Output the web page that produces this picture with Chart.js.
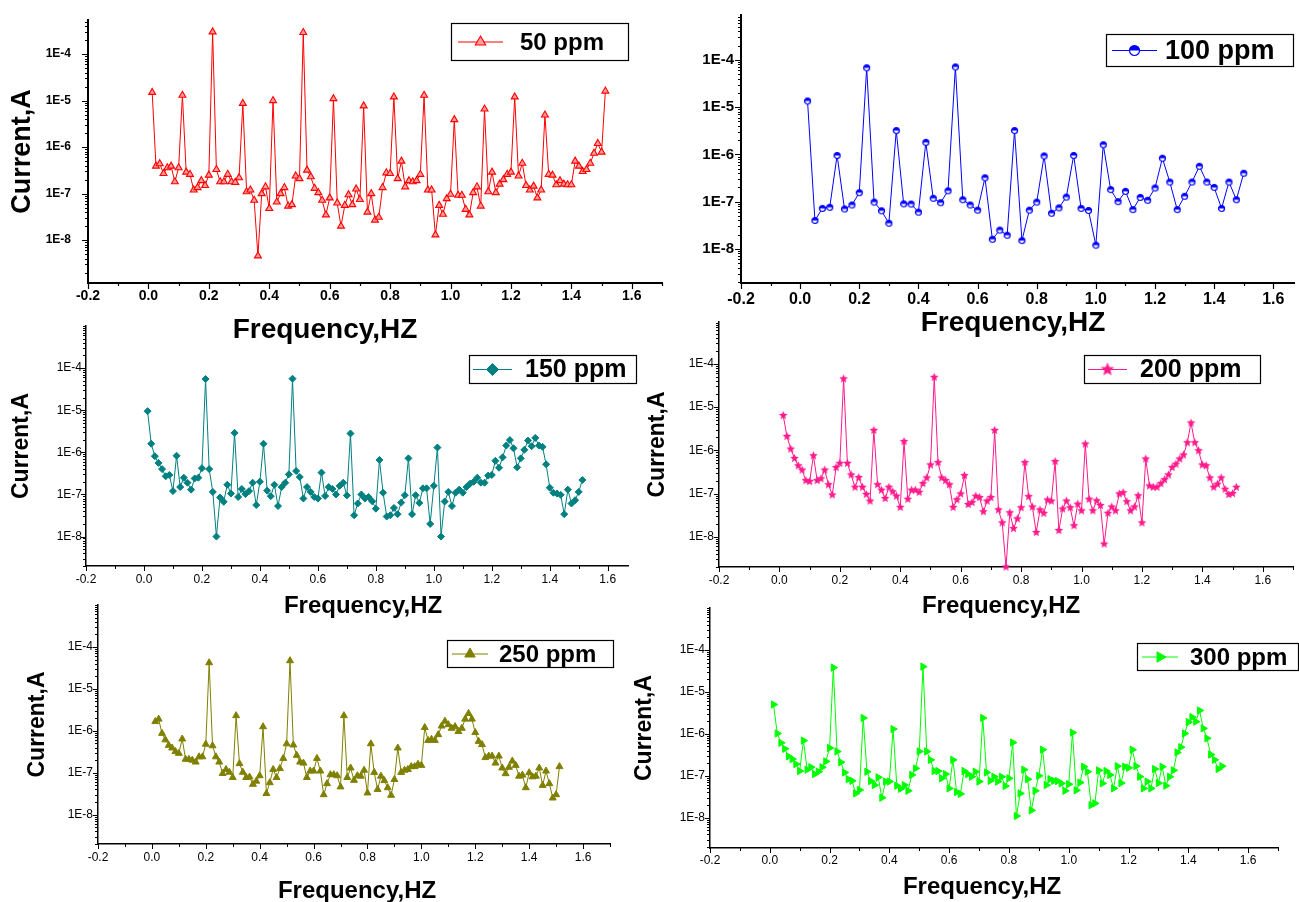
<!DOCTYPE html>
<html><head><meta charset="utf-8">
<script src="https://cdn.jsdelivr.net/npm/chart.js@4.4.1/dist/chart.umd.min.js"></script>
<style>
html,body{margin:0;padding:0;background:#fff;width:1299px;height:902px;overflow:hidden;}
body{position:relative;}
.p{position:absolute;}
.p canvas{display:block;}
</style></head><body>
<div class="p" id="w1"><canvas id="c1"></canvas></div>
<div class="p" id="w2"><canvas id="c2"></canvas></div>
<div class="p" id="w3"><canvas id="c3"></canvas></div>
<div class="p" id="w4"><canvas id="c4"></canvas></div>
<div class="p" id="w5"><canvas id="c5"></canvas></div>
<div class="p" id="w6"><canvas id="c6"></canvas></div>
<script>
// ---------------- DATA ----------------
const FREQ_FINE = [
0.0125,0.025,0.0375,0.05,0.0625,0.075,0.0875,0.1,
0.1125,0.125,0.1375,0.15,0.1625,0.175,0.1875,0.2,
0.2125,0.225,0.2375,0.25,0.2625,0.275,0.2875,0.3,
0.3125,0.325,0.3375,0.35,0.3625,0.375,0.3875,0.4,
0.4125,0.425,0.4375,0.45,0.4625,0.475,0.4875,0.5,
0.5125,0.525,0.5375,0.55,0.5625,0.575,0.5875,0.6,
0.6125,0.625,0.6375,0.65,0.6625,0.675,0.6875,0.7,
0.7125,0.725,0.7375,0.75,0.7625,0.775,0.7875,0.8,
0.8125,0.825,0.8375,0.85,0.8625,0.875,0.8875,0.9,
0.9125,0.925,0.9375,0.95,0.9625,0.975,0.9875,1.0,
1.0125,1.025,1.0375,1.05,1.0625,1.075,1.0875,1.1,
1.1125,1.125,1.1375,1.15,1.1625,1.175,1.1875,1.2,
1.2125,1.225,1.2375,1.25,1.2625,1.275,1.2875,1.3,
1.3125,1.325,1.3375,1.35,1.3625,1.375,1.3875,1.4,
1.4125,1.425,1.4375,1.45,1.4625,1.475,1.4875,1.5,
1.5125];
const FREQ_COARSE = [
0.025,0.05,0.075,0.1,0.125,0.15,0.175,0.2,0.225,0.25,
0.275,0.3,0.325,0.35,0.375,0.4,0.425,0.45,0.475,0.5,
0.525,0.55,0.575,0.6,0.625,0.65,0.675,0.7,0.725,0.75,
0.775,0.8,0.825,0.85,0.875,0.9,0.925,0.95,0.975,1.0,
1.025,1.05,1.075,1.1,1.125,1.15,1.175,1.2,1.225,1.25,
1.275,1.3,1.325,1.35,1.375,1.4,1.425,1.45,1.475,1.5];

const CURRENT_50PPM = [
1.5e-5,3.9e-7,4.4e-7,2.7e-7,3.6e-7,3.9e-7,1.8e-7,3.6e-7,
1.3e-5,2.9e-7,2.6e-7,1.2e-7,1.35e-7,1.9e-7,1.5e-7,2.5e-7,
3.0e-4,3.3e-7,1.8e-7,1.8e-7,2.6e-7,1.8e-7,1.75e-7,2.2e-7,
8.7e-6,1.1e-7,1.2e-7,7.2e-8,4.6e-9,1.0e-7,1.4e-7,4.8e-8,
1.0e-5,6.6e-8,1.0e-7,1.35e-7,5.4e-8,5.8e-8,2.4e-7,2.1e-7,
2.9e-4,3.2e-7,2.3e-7,1.3e-7,1.05e-7,7.2e-8,3.5e-8,8.1e-8,
1.1e-5,6.3e-8,2.0e-8,5.6e-8,9.5e-8,5.8e-8,1.26e-7,7.5e-8,
7.7e-6,4.0e-8,1.0e-7,2.7e-8,3.1e-8,1.35e-7,2.8e-7,2.7e-7,
1.2e-5,2.1e-7,5.0e-7,1.4e-7,1.9e-7,1.8e-7,1.9e-7,2.6e-7,
1.3e-5,1.2e-7,1.2e-7,1.3e-8,5.6e-8,3.6e-8,7.8e-8,9.7e-8,
3.9e-6,9.2e-8,9.2e-8,4.6e-8,3.5e-8,1.05e-7,1.4e-7,5.4e-8,
6.6e-6,1.1e-7,2.9e-7,1.05e-7,1.6e-7,2.0e-7,2.6e-7,2.9e-7,
1.2e-5,2.4e-7,4.5e-7,1.5e-7,1.2e-7,1.45e-7,8.1e-8,1.2e-7,
4.9e-6,2.6e-7,2.5e-7,1.55e-7,1.9e-7,1.6e-7,1.55e-7,1.55e-7,
5.0e-7,3.9e-7,3.0e-7,3.3e-7,4.5e-7,7.4e-7,1.2e-6,7.8e-7,
1.6e-5];
const CURRENT_100PPM = [
1.35e-5,4.0e-8,7.2e-8,7.6e-8,9.5e-7,7.0e-8,8.5e-8,1.55e-7,6.8e-5,9.8e-8,
6.4e-8,3.5e-8,3.2e-6,9.0e-8,8.9e-8,6.0e-8,1.8e-6,1.18e-7,9.5e-8,1.7e-7,
7.1e-5,1.1e-7,8.5e-8,6.6e-8,3.2e-7,1.6e-8,2.5e-8,1.95e-8,3.2e-6,1.5e-8,
6.6e-8,9.8e-8,9.3e-7,5.7e-8,7.4e-8,1.25e-7,9.5e-7,7.2e-8,6.5e-8,1.2e-8,
1.6e-6,1.8e-7,1.0e-7,1.65e-7,6.8e-8,1.23e-7,1.07e-7,1.95e-7,8.3e-7,2.6e-7,
6.8e-8,1.3e-7,2.6e-7,5.6e-7,2.6e-7,2.0e-7,7.2e-8,2.6e-7,1.1e-7,4.0e-7];
const CURRENT_150PPM = [
9.5e-6,1.6e-6,8.1e-7,5.6e-7,4.0e-7,2.7e-7,2.9e-7,1.2e-7,
8.3e-7,1.5e-7,2.5e-7,1.9e-7,1.3e-7,2.4e-7,2.5e-7,4.2e-7,
5.5e-5,4.0e-7,1.15e-7,1.0e-8,8.5e-8,6.7e-8,1.7e-7,1.05e-7,
2.9e-6,8.7e-8,1.35e-7,1.02e-7,1.2e-7,1.9e-7,5.6e-8,2.0e-7,
1.6e-6,1.23e-7,9.1e-8,1.7e-7,5.3e-8,1.5e-7,1.9e-7,3.0e-7,
5.6e-5,3.6e-7,2.6e-7,8.0e-8,1.5e-7,1.15e-7,8.7e-8,8.0e-8,
3.3e-7,9.2e-8,1.5e-7,1.35e-7,1.0e-7,1.6e-7,1.9e-7,9.5e-8,
2.8e-6,3.2e-8,6.1e-8,1.0e-7,8.0e-8,8.7e-8,6.9e-8,4.6e-8,
6.6e-7,1.1e-7,3.0e-8,3.2e-8,4.8e-8,3.4e-8,6.4e-8,9.6e-8,
7.2e-7,3.4e-8,9.6e-8,6.3e-8,1.4e-7,1.4e-7,2.0e-8,1.6e-7,
1.3e-6,1.0e-8,6.8e-8,1.15e-7,5.3e-8,1.1e-7,1.3e-7,1.1e-7,
1.5e-7,1.8e-7,2.0e-7,2.5e-7,1.9e-7,1.9e-7,2.8e-7,2.9e-7,
6.3e-7,4.3e-7,7.6e-7,1.45e-6,1.95e-6,1.25e-6,4.4e-7,7.2e-7,
1.15e-6,1.9e-6,1.4e-6,2.2e-6,1.45e-6,1.35e-6,5.2e-7,1.45e-7,
1.1e-7,1.05e-7,9.8e-8,3.4e-8,1.3e-7,6.1e-8,7.3e-8,1.15e-7,
2.2e-7];
const CURRENT_200PPM = [
6.4e-6,2.1e-6,1.07e-6,6.5e-7,4.4e-7,3.5e-7,2.0e-7,1.9e-7,
7.5e-7,2.0e-7,2.2e-7,3.5e-7,1.6e-7,9.3e-8,4.0e-7,5.0e-7,
4.5e-5,5.0e-7,2.7e-7,1.4e-7,2.35e-7,1.4e-7,9.6e-8,6.7e-8,
2.9e-6,1.6e-7,1.2e-7,7.7e-8,1.4e-7,1.1e-7,8.7e-8,4.8e-8,
1.6e-6,7.4e-8,1.2e-7,1.2e-7,1.07e-7,1.7e-7,2.3e-7,4.6e-7,
4.9e-5,5.2e-7,2.3e-7,2.0e-7,1.6e-7,4.8e-8,7.2e-8,9.8e-8,
2.6e-7,5.6e-8,6.2e-8,8.7e-8,8.1e-8,3.8e-8,6.7e-8,8.1e-8,
2.9e-6,4.2e-8,2.1e-8,2.0e-9,3.6e-8,1.55e-8,2.6e-8,4.7e-8,
5.2e-7,8.5e-8,4.9e-8,1.26e-8,4.2e-8,3.5e-8,7.1e-8,6.7e-8,
5.5e-7,1.4e-8,4.4e-8,6.7e-8,4.7e-8,1.8e-8,5.7e-8,4.0e-8,
1.4e-6,7.4e-8,4.0e-8,6.8e-8,5.3e-8,6.8e-9,3.5e-8,4.9e-8,
4.0e-8,9.8e-8,1.05e-7,6.5e-8,4.0e-8,4.9e-8,8.9e-8,2.1e-8,
6.3e-7,1.5e-7,1.4e-7,1.4e-7,1.7e-7,2.1e-7,2.7e-7,4.0e-7,
4.8e-7,6.3e-7,7.8e-7,1.5e-6,4.3e-6,1.5e-6,9.8e-7,4.6e-7,
4.4e-7,2.3e-7,1.4e-7,1.65e-7,2.3e-7,1.26e-7,9.5e-8,1.0e-7,
1.4e-7];
const CURRENT_250PPM = [
1.66e-6,1.9e-6,8.7e-7,6.1e-7,4.5e-7,3.9e-7,3.2e-7,2.9e-7,
6.4e-7,2.1e-7,2.1e-7,2.0e-7,1.8e-7,2.4e-7,2.4e-7,4.8e-7,
4.2e-5,4.4e-7,2.4e-7,1.8e-7,9.6e-8,1.2e-7,1.03e-7,7.7e-8,
2.3e-6,1.65e-7,1.03e-7,7.7e-8,7.9e-8,5.3e-8,6.3e-8,8.5e-8,
1.25e-6,3.2e-8,5.8e-8,1.2e-7,7.7e-8,1.26e-7,2.2e-7,4.9e-7,
4.7e-5,4.6e-7,2.6e-7,1.8e-7,1.7e-7,7.7e-8,1.1e-7,1.1e-7,
2.2e-7,1.1e-7,3.0e-8,5.5e-8,9.0e-8,9.0e-8,8.5e-8,4.6e-8,
2.3e-6,7.7e-8,1.3e-7,6.6e-8,8.5e-8,8.3e-8,1.15e-7,3.3e-8,
4.9e-7,1.02e-7,4.0e-8,8.3e-8,6.5e-8,4.4e-8,2.9e-8,6.9e-8,
3.9e-7,1.02e-7,1.15e-7,1.2e-7,1.4e-7,1.4e-7,1.6e-7,1.5e-7,
1.2e-6,5.9e-7,6.3e-7,5.9e-7,8.1e-7,1.3e-6,1.7e-6,1.4e-6,
1.15e-6,1.26e-6,9.6e-7,1.15e-6,1.9e-6,2.6e-6,1.9e-6,9.1e-7,
5.6e-7,4.7e-7,2.3e-7,2.5e-7,2.5e-7,1.7e-7,2.5e-7,1.3e-7,
9.5e-8,1.35e-7,1.9e-7,1.5e-7,8.3e-8,8.8e-8,4.4e-8,1.0e-7,
8.0e-8,8.3e-8,1.3e-7,5.0e-8,1.1e-7,5.5e-8,2.5e-8,3.0e-8,
1.4e-7];
const CURRENT_300PPM = [
5.0e-6,1.02e-6,6.1e-7,4.4e-7,2.9e-7,2.5e-7,1.9e-7,1.3e-7,
6.9e-7,1.4e-7,1.6e-7,1.1e-7,1.25e-7,1.6e-7,2.2e-7,4.6e-7,
3.8e-5,3.8e-7,2.1e-7,1.2e-7,8.3e-8,7.6e-8,3.8e-8,4.6e-8,
2.4e-6,1.25e-7,7.5e-8,6.0e-8,9.2e-8,3.0e-8,7.3e-8,7.3e-8,
1.3e-6,5.8e-8,4.9e-8,6.0e-8,4.4e-8,1.05e-7,1.5e-7,3.8e-7,
4.0e-5,3.8e-7,2.4e-7,1.3e-7,1.3e-7,8.7e-8,1.1e-7,5.0e-8,
2.4e-7,4.1e-8,3.7e-8,1.3e-7,1.1e-7,9.5e-8,1.25e-7,7.3e-8,
2.4e-6,1.2e-7,7.6e-8,9.5e-8,7.3e-8,9.5e-8,5.7e-8,8.7e-8,
6.2e-7,1.1e-8,3.8e-8,1.4e-7,8.3e-8,1.5e-8,4.4e-8,1.0e-7,
4.2e-7,6.0e-8,8.3e-8,7.6e-8,7.5e-8,6.6e-8,4.4e-8,6.3e-8,
1.07e-6,4.5e-8,6.9e-8,1.65e-7,1.25e-7,2.0e-8,2.2e-8,1.35e-7,
6.6e-8,1.3e-7,1.05e-7,5.0e-8,1.7e-7,6.7e-8,1.65e-7,1.55e-7,
4.2e-7,1.7e-7,9.5e-8,5.0e-8,7.3e-8,5.0e-8,1.45e-7,6.7e-8,
1.65e-7,5.8e-8,9.5e-8,1.35e-7,3.6e-7,4.8e-7,1.02e-6,1.9e-6,
2.5e-6,1.95e-6,3.6e-6,1.35e-6,7.8e-7,3.2e-7,2.4e-7,1.45e-7,
1.7e-7];

const X_TICK_VALUES = [-0.2,0.0,0.2,0.4,0.6,0.8,1.0,1.2,1.4,1.6];
const X_TICK_LABELS = ['-0.2','0.0','0.2','0.4','0.6','0.8','1.0','1.2','1.4','1.6'];
const Y_TICK_VALUES = [1e-4,1e-5,1e-6,1e-7,1e-8];
const Y_TICK_LABELS = ['1E-4','1E-5','1E-6','1E-7','1E-8'];
const SERIES_LABELS = ['50 ppm','100 ppm','150 ppm','200 ppm','250 ppm','300 ppm'];
const X_TITLE = 'Frequency,HZ';
const Y_TITLE = 'Current,A';

// ---------------- HELPERS ----------------
const FAM = "'Liberation Sans', Arial, Helvetica, sans-serif";

function halfCircleImg(r, color){
  const s = Math.ceil(2*r+3), c = document.createElement('canvas');
  c.width = c.height = s; const g = c.getContext('2d'), m = s/2;
  g.beginPath(); g.arc(m,m,r,0,Math.PI*2); g.fillStyle='#fff'; g.fill();
  g.beginPath(); g.arc(m,m,r,Math.PI,0); g.closePath(); g.fillStyle=color; g.fill();
  g.beginPath(); g.arc(m,m,r,0,Math.PI*2); g.strokeStyle=color; g.lineWidth=1.2; g.stroke();
  return c;
}
function starImg(r, color){
  const s = Math.ceil(2*r+2), c = document.createElement('canvas');
  c.width = c.height = s; const g = c.getContext('2d'), m = s/2;
  g.beginPath();
  for(let i=0;i<10;i++){
    const rr = i%2===0 ? r : r*0.45;
    const a = -Math.PI/2 + i*Math.PI/5;
    const px = m + rr*Math.cos(a), py = m + rr*Math.sin(a);
    if(i===0) g.moveTo(px,py); else g.lineTo(px,py);
  }
  g.closePath(); g.fillStyle=color; g.fill();
  return c;
}

function xTickList(max){
  const out=[]; const last=Math.floor(max*10+1e-9);
  for(let i=-2;i<=last;i++) out.push({value:i/10});
  return out;
}
function yTickList(min,max){
  const out=[];
  for(let e=Math.floor(Math.log10(min)); e<=Math.ceil(Math.log10(max)); e++){
    for(let m=1;m<=9;m++){ const v=Number(m+'e'+e); if(v>=min*0.999999 && v<=max*1.000001) out.push({value:v}); }
  }
  return out;
}
function xLabel(v){ const i=X_TICK_VALUES.findIndex(t=>Math.abs(t-v)<1e-9); return i>=0?X_TICK_LABELS[i]:''; }
function yLabel(v){ const i=Y_TICK_VALUES.findIndex(t=>Math.abs(Math.log10(t)-Math.log10(v))<1e-6); return i>=0?Y_TICK_LABELS[i]:''; }

const axisTicks = {
  id:'axisTicks',
  afterDraw(chart, args, o){
    const ctx=chart.ctx, a=chart.chartArea, xs=chart.scales.x, ys=chart.scales.y;
    ctx.save(); ctx.strokeStyle='#000'; ctx.lineWidth=o.width; ctx.beginPath();
    xs.ticks.forEach(t=>{
      const p=xs.getPixelForValue(t.value); if(p<a.left-1||p>a.right+1) return;
      const len=t.label?o.major:o.minor, px=Math.round(p)+0.5;
      ctx.moveTo(px,a.bottom); ctx.lineTo(px,a.bottom+len);
    });
    ys.ticks.forEach(t=>{
      const p=ys.getPixelForValue(t.value); if(p<a.top-1||p>a.bottom+1) return;
      const len=t.label?o.major:o.minor, py=Math.round(p)+0.5;
      ctx.moveTo(a.left,py); ctx.lineTo(a.left-len,py);
    });
    ctx.stroke(); ctx.restore();
  }
};
const xAxisTitle = {
  id:'xAxisTitle',
  afterDraw(chart, args, o){
    const ctx=chart.ctx;
    ctx.save(); ctx.fillStyle='#000'; ctx.font='bold '+o.size+'px '+FAM;
    ctx.textAlign='center'; ctx.textBaseline='middle';
    ctx.fillText(o.text,o.cx,o.cy);
    ctx.restore();
  }
};
const boxLegend = {
  id:'boxLegend',
  afterDraw(chart, args, o){
    const ctx=chart.ctx, ds=chart.data.datasets[0];
    ctx.save();
    ctx.fillStyle='#fff'; ctx.fillRect(o.x,o.y,o.w,o.h);
    ctx.strokeStyle='#000'; ctx.lineWidth=1.2; ctx.strokeRect(o.x+0.5,o.y+0.5,o.w-1,o.h-1);
    const cy=o.y+o.h/2;
    ctx.strokeStyle=ds.borderColor; ctx.lineWidth=1.2;
    ctx.beginPath(); ctx.moveTo(o.x1,cy); ctx.lineTo(o.x2,cy); ctx.stroke();
    ctx.fillStyle=ds.pointBackgroundColor; ctx.strokeStyle=ds.pointBorderColor; ctx.lineWidth=ds.pointBorderWidth;
    Chart.helpers.drawPoint(ctx,{pointStyle:o.marker||ds.pointStyle, rotation:ds.pointRotation||0, radius:o.mr, borderWidth:ds.pointBorderWidth},(o.x1+o.x2)/2,cy);
    ctx.fillStyle='#000'; ctx.font='bold '+o.fs+'px '+FAM; ctx.textBaseline='middle'; ctx.textAlign='left';
    ctx.fillText(ds.label,o.tx,cy+1);
    ctx.restore();
  }
};

// ---------------- PANELS (layout / style only) ----------------
const PANELS = [
 {wrap:'w1', cv:'c1', label:SERIES_LABELS[0], freq:FREQ_FINE, values:CURRENT_50PPM,
  left:0, width:672, T:20, bottom:353, yw:88, xh:70, padRight:10, xMax:1.7, yMin:1.2e-9, yMax:5.4e-4,
  color:'#ff0000', fill:'#ff9c9c', ps:'triangle', pr:4, rot:0, pbw:1.1,
  axisW:2, tickW:1.2, major:6, minor:3,
  xFont:{size:14,weight:'bold'}, yFont:{size:12,weight:'bold'}, xPad:5, yPad:17,
  yTitle:{size:27,pad:6}, xTitlePage:{size:28,cx:325,cy:330},
  legendPage:{x:451,y:23,w:178,h:38,x1:458,x2:503,tx:520,fs:24,mr:6}},
 {wrap:'w2', cv:'c2', label:SERIES_LABELS[1], freq:FREQ_COARSE, values:CURRENT_100PPM,
  left:691, width:608, T:15, bottom:343, yw:50, xh:60, padRight:0, xMax:1.67, yMin:1.9e-9, yMax:8.9e-4,
  color:'#0000ff', fill:'#0000ff', ps:'half', pr:3, rot:0, pbw:1,
  axisW:2, tickW:1.2, major:6, minor:3,
  xFont:{size:16,weight:'bold'}, yFont:{size:15,weight:'bold'}, xPad:7, yPad:7,
  yTitle:null, xTitlePage:{size:28,cx:1013,cy:323},
  legendPage:{x:1106,y:34,w:188,h:33,x1:1112,x2:1157,tx:1165,fs:27,mr:5}},
 {wrap:'w3', cv:'c3', label:SERIES_LABELS[2], freq:FREQ_FINE, values:CURRENT_150PPM,
  left:0, width:638, T:326, bottom:630, yw:86, xh:64, padRight:10, xMax:1.67, yMin:2e-9, yMax:1e-3,
  color:'#008080', fill:'#008080', ps:'rectRot', pr:3.5, rot:0, pbw:1,
  axisW:1.5, tickW:1, major:5, minor:3,
  xFont:{size:12,weight:'normal'}, yFont:{size:12,weight:'normal'}, xPad:6, yPad:4,
  yTitle:{size:23,pad:8}, xTitlePage:{size:24,cx:363,cy:606},
  legendPage:{x:469,y:355,w:168,h:29,x1:473,x2:512,tx:525,fs:25,mr:6}},
 {wrap:'w4', cv:'c4', label:SERIES_LABELS[3], freq:FREQ_FINE, values:CURRENT_200PPM,
  left:640, width:659, T:322, bottom:630, yw:79, xh:63, padRight:4, xMax:1.7, yMin:2e-9, yMax:9.3e-4,
  color:'#ff1a8c', fill:'#ff1a8c', ps:'star', pr:4.5, rot:0, pbw:1,
  axisW:1.5, tickW:1, major:5, minor:3,
  xFont:{size:12,weight:'normal'}, yFont:{size:12,weight:'normal'}, xPad:6, yPad:5,
  yTitle:{size:23,pad:4}, xTitlePage:{size:24,cx:1001,cy:606},
  legendPage:{x:1084,y:355,w:177,h:29,x1:1088,x2:1127,tx:1140,fs:25,mr:6}},
 {wrap:'w5', cv:'c5', label:SERIES_LABELS[4], freq:FREQ_FINE, values:CURRENT_250PPM,
  left:0, width:620, T:605, bottom:912, yw:98, xh:68, padRight:10, xMax:1.7, yMin:2e-9, yMax:1e-3,
  color:'#808000', fill:'#808000', ps:'triangle', pr:4, rot:0, pbw:1,
  axisW:1.5, tickW:1, major:5, minor:3,
  xFont:{size:12,weight:'normal'}, yFont:{size:12,weight:'normal'}, xPad:6, yPad:5,
  yTitle:{size:23,pad:24}, xTitlePage:{size:24,cx:357,cy:891},
  legendPage:{x:447,y:640,w:167,h:28,x1:452,x2:488,tx:499,fs:24,mr:6}},
 {wrap:'w6', cv:'c6', label:SERIES_LABELS[5], freq:FREQ_FINE, values:CURRENT_300PPM,
  left:625, width:674, T:608, bottom:912, yw:85, xh:64, padRight:21, xMax:1.7, yMin:1.9e-9, yMax:1e-3,
  color:'#00ff00', fill:'#00ff00', ps:'triangle', pr:4.2, rot:90, pbw:1,
  axisW:1.5, tickW:1, major:5, minor:3,
  xFont:{size:12,weight:'normal'}, yFont:{size:12,weight:'normal'}, xPad:5, yPad:5,
  yTitle:{size:23,pad:6}, xTitlePage:{size:24,cx:982,cy:887},
  legendPage:{x:1137,y:643,w:162,h:28,x1:1142,x2:1178,tx:1190,fs:24,mr:6}}
];

function build(P){
  const padTop = Math.ceil(0.6*P.yFont.size + P.yPad);
  const top = P.T - padTop;
  const height = P.bottom - top;
  const w=document.getElementById(P.wrap);
  w.style.left=P.left+'px'; w.style.top=top+'px';
  w.style.width=P.width+'px'; w.style.height=height+'px';
  let pointStyle=P.ps, legendMarker=null;
  if(P.ps==='half'){ pointStyle=halfCircleImg(P.pr,P.color); legendMarker=halfCircleImg(P.legendPage.mr,P.color); }
  if(P.ps==='star'){ pointStyle=starImg(P.pr,P.color); legendMarker=starImg(P.legendPage.mr+1,P.color); }
  const L=P.legendPage;
  const legendOpts={x:L.x-P.left, y:L.y-top, w:L.w, h:L.h, x1:L.x1-P.left, x2:L.x2-P.left,
                    tx:L.tx-P.left, fs:L.fs, mr:L.mr, marker:legendMarker};
  const XT=P.xTitlePage;
  const xTitleOpts={text:X_TITLE, size:XT.size, cx:XT.cx-P.left, cy:XT.cy-top};
  new Chart(document.getElementById(P.cv),{
    type:'line',
    data:{datasets:[{
      label:P.label,
      data:P.freq.map((f,i)=>({x:f,y:P.values[i]})),
      borderColor:P.color, backgroundColor:P.fill, borderWidth:1,
      pointStyle:pointStyle, pointRadius:P.pr, pointRotation:P.rot,
      pointBackgroundColor:P.fill, pointBorderColor:P.color, pointBorderWidth:P.pbw,
      tension:0, fill:false, clip:4
    }]},
    options:{
      responsive:true, maintainAspectRatio:false, animation:false, devicePixelRatio:1,
      layout:{padding:{top:padTop,right:P.padRight,left:0,bottom:0}},
      plugins:{legend:{display:false}, tooltip:{enabled:false},
        boxLegend:legendOpts, xAxisTitle:xTitleOpts,
        axisTicks:{width:P.tickW,major:P.major,minor:P.minor}},
      scales:{
        x:{type:'linear', min:-0.2, max:P.xMax,
          afterBuildTicks:s=>{ s.ticks=xTickList(P.xMax); },
          afterFit:s=>{ s.height=P.xh; },
          grid:{display:true, drawOnChartArea:false, drawTicks:false},
          border:{display:true, color:'#000', width:P.axisW},
          ticks:{autoSkip:false, maxRotation:0, minRotation:0, padding:P.xPad, color:'#000',
            font:{family:FAM,size:P.xFont.size,weight:P.xFont.weight},
            callback:(v)=>xLabel(v)},
          title:{display:false}
        },
        y:{type:'logarithmic', min:P.yMin, max:P.yMax,
          afterBuildTicks:s=>{ s.ticks=yTickList(P.yMin,P.yMax); },
          afterFit:s=>{ s.width=P.yw; },
          grid:{display:true, drawOnChartArea:false, drawTicks:false},
          border:{display:true, color:'#000', width:P.axisW},
          ticks:{autoSkip:false, padding:P.yPad, color:'#000',
            font:{family:FAM,size:P.yFont.size,weight:P.yFont.weight},
            callback:(v)=>yLabel(v)},
          title:{display:!!P.yTitle, text:Y_TITLE, color:'#000',
            font:{family:FAM,size:P.yTitle?P.yTitle.size:12,weight:'bold'},
            padding:{top:P.yTitle?P.yTitle.pad:0,bottom:0}}
        }
      }
    },
    plugins:[axisTicks, xAxisTitle, boxLegend]
  });
}
PANELS.forEach(build);
</script>
</body></html>
